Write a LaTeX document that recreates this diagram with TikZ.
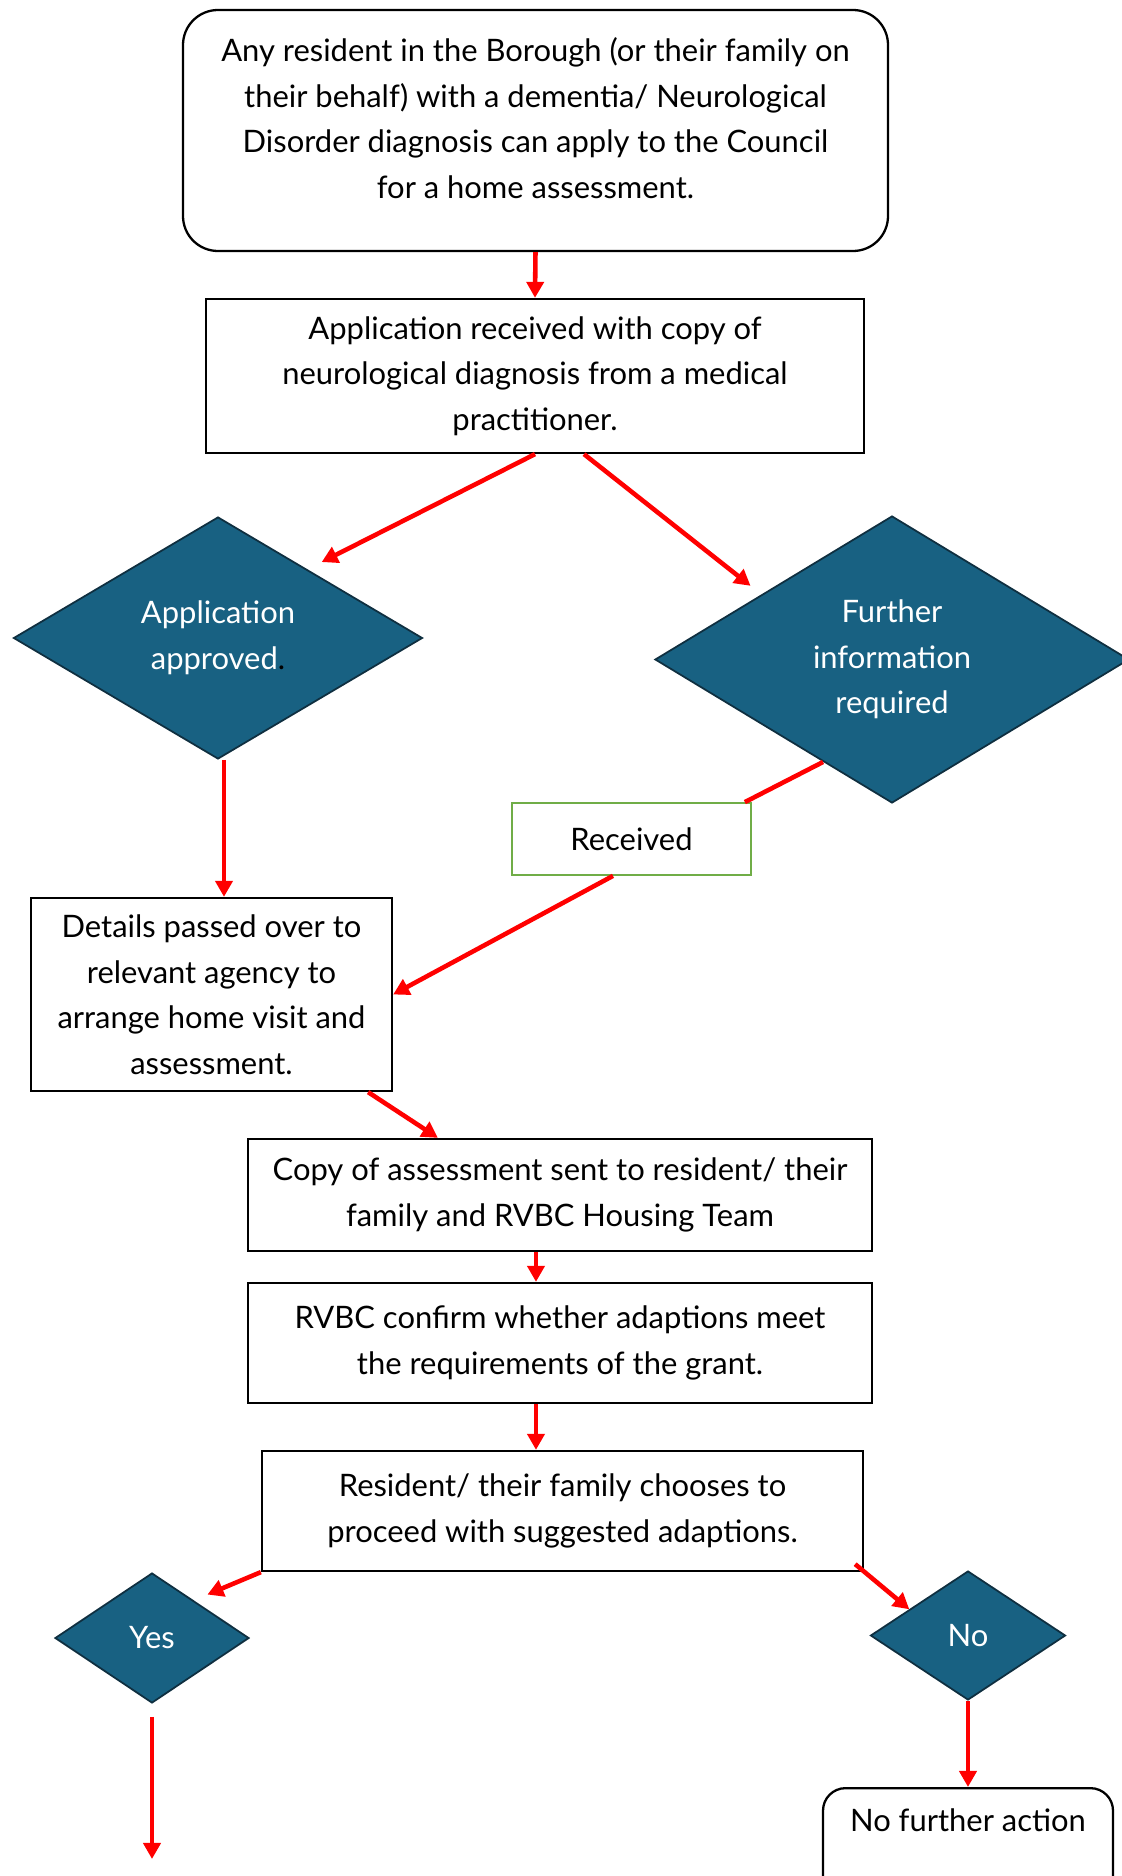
\documentclass[tikz,border=0pt]{standalone}
\usepackage{fontspec}
\setmainfont{Lato}
\usetikzlibrary{shapes.geometric,arrows.meta,calc}
\definecolor{deciblue}{HTML}{186182}
\definecolor{decirim}{HTML}{0F2F40}
\definecolor{okgreen}{HTML}{70AD47}

\begin{document}
\begin{tikzpicture}[scale=0.2]
\tikzstyle{every node}+=[font=\fontsize{17.6pt}{25.9pt}\selectfont, align=center]
\tikzstyle{stepbox}=[draw=black, line width=1.3pt, rectangle]
\tikzstyle{roundbox}=[stepbox, rounded corners=0.7cm]
\tikzstyle{choice}=[diamond, aspect=1.66, inner sep=0pt, draw=decirim, line width=1pt, fill=deciblue, text=white]
\tikzstyle{flow}=[draw=red, line width=2.6pt, -{Triangle[length=0.32cm,width=0.34cm]}]
\tikzstyle{link}=[draw=red, line width=2.6pt]

\useasboundingbox (0,0) rectangle (112.1,-187.6);

\draw (53.55,-13.05) node[roundbox, minimum width=14.1cm, minimum height=4.82cm, text depth=0.5cm] (start) {Any resident in the Borough (or their family on\\their behalf) with a dementia/ Neurological\\Disorder diagnosis can apply to the Council\\for a home assessment.};

\draw (53.5,-37.6) node[stepbox, minimum width=13.16cm, minimum height=3.08cm] (app) {Application received with copy of\\neurological diagnosis from a medical\\practitioner.};

\draw (21.8,-63.8) node[choice, minimum width=8.18cm, minimum height=4.84cm] (approved) {Application\\approved{\color{black}.}};
\draw (89.2,-65.95) node[choice, minimum width=9.48cm, minimum height=5.74cm] (further) {Further\\information\\required};

\draw (63.15,-83.9) node[stepbox, draw=okgreen, line width=1pt, minimum width=4.78cm, minimum height=1.44cm] (received) {Received};

\draw (21.15,-99.45) node[stepbox, minimum width=7.22cm, minimum height=3.86cm] (details) {Details passed over to\\relevant agency to\\arrange home visit and\\assessment.};

\draw (56.0,-119.5) node[stepbox, minimum width=12.48cm, minimum height=2.24cm] (copy) {Copy of assessment sent to resident/ their\\family and RVBC Housing Team};
\draw (56.0,-134.3) node[stepbox, minimum width=12.48cm, minimum height=2.4cm] (rvbc) {RVBC confirm whether adaptions meet\\the requirements of the grant.};
\draw (56.25,-151.1) node[stepbox, minimum width=12.02cm, minimum height=2.4cm] (resident) {Resident/ their family chooses to\\proceed with suggested adaptions.};

\draw (15.2,-163.8) node[choice, minimum width=3.88cm, minimum height=2.6cm] (yes) {Yes};
\draw (96.8,-163.55) node[choice, minimum width=3.9cm, minimum height=2.58cm] (no) {No};

\draw (96.8,-178.7) node[roundbox, rounded corners=0.45cm, anchor=north, minimum width=5.8cm, inner ysep=0.42cm, text depth=2cm] (nfa) {No further action};

\coordinate (apdrop) at ($(approved.south)+(0.6,0)$);
\coordinate (cpdrop) at ($(copy.south)+(-2.4,0)$);
\coordinate (rvdrop) at ($(rvbc.south)+(-2.4,0)$);
\coordinate (yesend) at (15.2,-185.9);
\draw [flow] (start.south) -- (app.north);
\draw [flow] (app.south) -- ($(approved.north east)+(0.1,1.5)$);
\draw [flow] ($(app.south)+(4.9,0)$) -- ($(further.north west)+(-2.25,0.15)$);
\draw [link] ($(further.west)!0.71!(further.south)$) -- ($(received.north east)+(-0.7,0)$);
\draw [flow] ($(received.south)+(-1.85,0)$) -- (details.east);
\draw [flow] (apdrop) -- (apdrop |- details.north);
\draw [flow] ($(details.south east)+(-2.5,0)$) -- ($(copy.north west)+(19.1,0)$);
\draw [flow] (cpdrop) -- (cpdrop |- rvbc.north);
\draw [flow] (rvdrop) -- (rvdrop |- resident.north);
\draw [flow] (resident.south west) -- ($(yes.north east)+(0.65,1.05)$);
\draw [flow] ($(resident.south east)+(-0.9,0.8)$) -- ($(no.north west)+(-0.95,-0.65)$);
\draw [flow] ($(yes.south)+(0,-1.3)$) -- (yesend);
\draw [flow] (no.south) -- (nfa.north);
\end{tikzpicture}
\end{document}
